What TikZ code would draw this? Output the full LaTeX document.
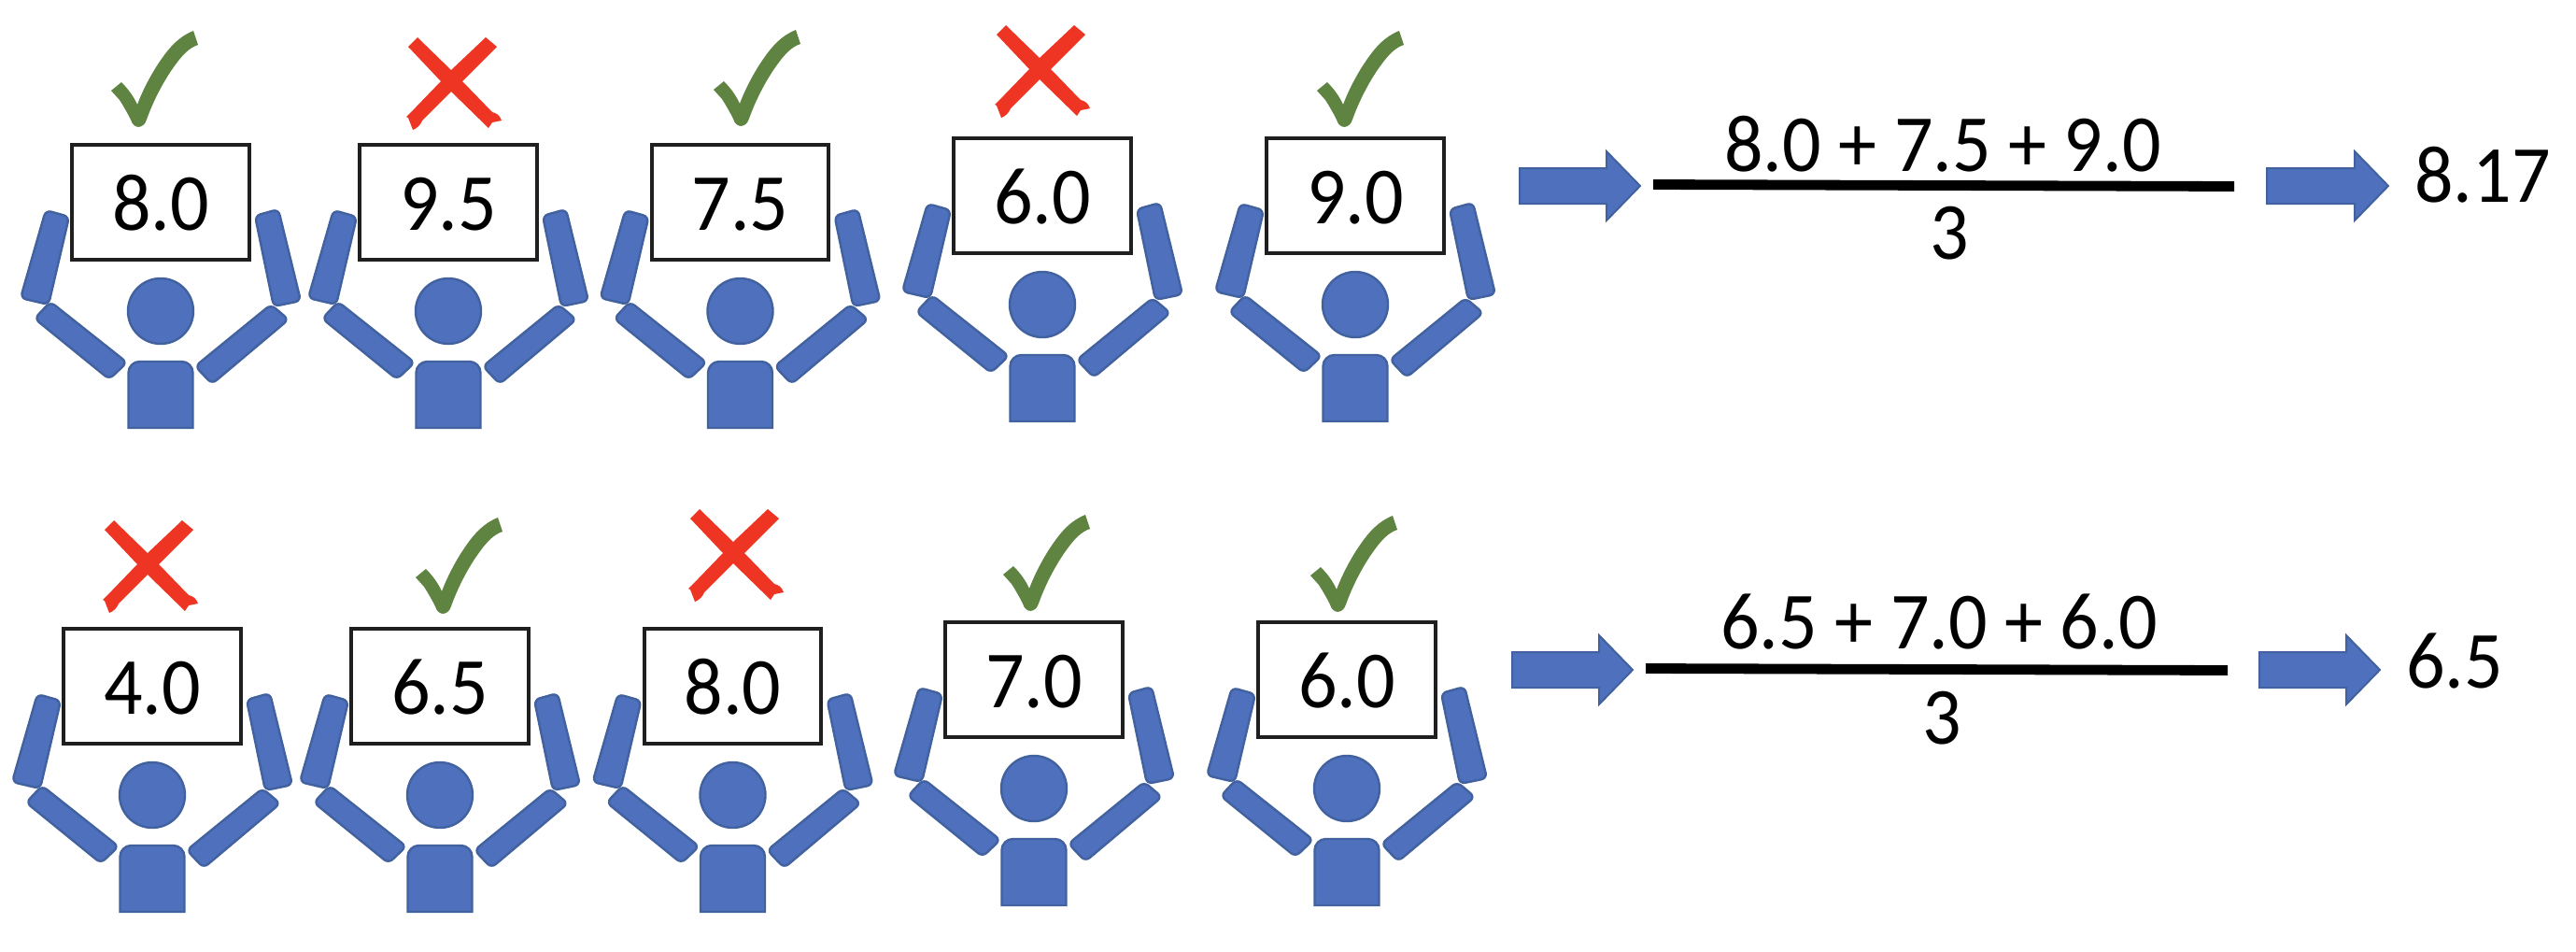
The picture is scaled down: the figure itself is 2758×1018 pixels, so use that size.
\documentclass[tikz,border=0pt]{standalone}
\usepackage{graphicx}
\usepackage{fontspec}
\setmainfont{Carlito}
\definecolor{pblue}{HTML}{4F70BC}
\definecolor{pedge}{HTML}{42619F}
\definecolor{okgreen}{HTML}{5F8340}
\definecolor{nored}{HTML}{EE3524}
\newcommand{\numfmt}[1]{\scalebox{0.945}[1]{\fontsize{43.4}{43.4}\selectfont #1}}
\tikzset{
  bodypart/.style={fill=pblue,draw=pedge,line width=1.2pt,rounded corners=3pt},
  headpart/.style={fill=pblue,draw=pedge,line width=1.2pt},
  scorebox/.style={draw=black!88,fill=white,line width=2pt,inner sep=0pt,minimum width=94.75pt,minimum height=61.5pt},
  numtext/.style={anchor=base,inner sep=0pt,text=black},
  blockarrow/.style={fill=pblue,draw=pedge,line width=1pt,line join=miter},
  fracline/.style={draw=black,line width=5.4pt},
}
\newcommand{\personfig}[4]{%
  \begin{scope}[shift={(#1,#2)}]
    \draw[bodypart] (-123,70) -- (-98,77) -- (-120,171) -- (-150,164) -- cycle;
    \draw[bodypart] (101,76) -- (126,69) -- (150,167) -- (121,173) -- cycle;
    \draw[bodypart] (-118,168) -- (-36,233) -- (-55,251) -- (-135,186) -- cycle;
    \draw[bodypart] (118,171) -- (137,187) -- (55,256) -- (37,237) -- cycle;
    \filldraw[headpart] (0,178) circle [radius=35];
    \draw[headpart] (-34.5,303) -- (-34.5,245) [rounded corners=6pt] -- (-34.5,232) -- (34.5,232) [sharp corners] -- (34.5,303) -- cycle;
    \node[scorebox] (#3) at (0,61.5) {};
    \node[numtext] (#3t) at (0,91) {\numfmt{#4}};
  \end{scope}}
\newcommand{\tickmark}[2]{%
  \fill[okgreen,shift={(#1,#2)}] (119,97) -- (130,88) .. controls (137,95) and (143,103) .. (147,112)
    .. controls (153,96) and (163,77) .. (173,63) .. controls (182,50) and (192,39) .. (207,33)
    -- (212,48) .. controls (203,51) and (196,58) .. (188,69)
    .. controls (176,85) and (164,108) .. (157,128) .. controls (154,138) and (143,139) .. (140,128)
    .. controls (136,120) and (130,110) .. (128,107) -- cycle;}
\newcommand{\crossmark}[2]{%
  \fill[nored,shift={(#1,#2)}] (0,-12) -- (-36,-47) -- (-46,-37) -- (-11,0) -- (-38,28) -- (-48,38)
    -- (-46,39) -- (-41,52) .. controls (-36,50) and (-33,47) .. (-31,42) -- (0,11)
    -- (40,50) -- (44,44) -- (54,42) .. controls (52,36) and (48,34) .. (44,33) -- (12,0) -- (49,-37) -- (37,-47) -- cycle;}
\newcommand{\blockarr}[3]{%
  \draw[blockarrow,shift={(#1,#2)}] (0,-19) -- (#3,-19) -- (#3,-37) -- ({#3+36},0) -- (#3,37) -- (#3,19) -- (0,19) -- cycle;}
\begin{document}
\begin{tikzpicture}[x=0.5pt,y=-0.5pt]
  \useasboundingbox[fill=white] (0,0) rectangle (2758,1018);
  % top row
  \tickmark{0}{0}
  \crossmark{483}{87}
  \tickmark{645}{-1}
  \crossmark{1113}{74}
  \tickmark{1291}{0}
  \personfig{172}{155}{a1}{8.0}
  \personfig{480}{155}{a2}{9.5}
  \personfig{792.5}{155}{a3}{7.5}
  \personfig{1116}{148}{a4}{6.0}
  \personfig{1451}{148}{a5}{9.0}
  \blockarr{1627}{199}{93}
  \draw[fracline] (1770,197.5) -- (2392,199.5);
  \node[numtext] (e1) at (2080,183) {\numfmt{8.0 + 7.5 + 9.0}};
  \node[numtext] (d1) at (2087,277) {\numfmt{3}};
  \blockarr{2427}{199}{94}
  \node[numtext] (r1) at (2658,216) {\numfmt{8.17}};
  % bottom row
  \crossmark{158}{604}
  \tickmark{326}{521}
  \crossmark{785}{592}
  \tickmark{955}{518}
  \tickmark{1284}{519}
  \personfig{163}{673}{b1}{4.0}
  \personfig{471}{673}{b2}{6.5}
  \personfig{784.5}{673}{b3}{8.0}
  \personfig{1107}{666}{b4}{7.0}
  \personfig{1442}{666}{b5}{6.0}
  \blockarr{1619}{717}{93}
  \draw[fracline] (1762,715.5) -- (2385,717.5);
  \node[numtext] (e2) at (2076,694) {\numfmt{6.5 + 7.0 + 6.0}};
  \node[numtext] (d2) at (2079,796) {\numfmt{3}};
  \blockarr{2419}{717}{93}
  \node[numtext] (r2) at (2628,736) {\numfmt{6.5}};
\end{tikzpicture}
\end{document}
